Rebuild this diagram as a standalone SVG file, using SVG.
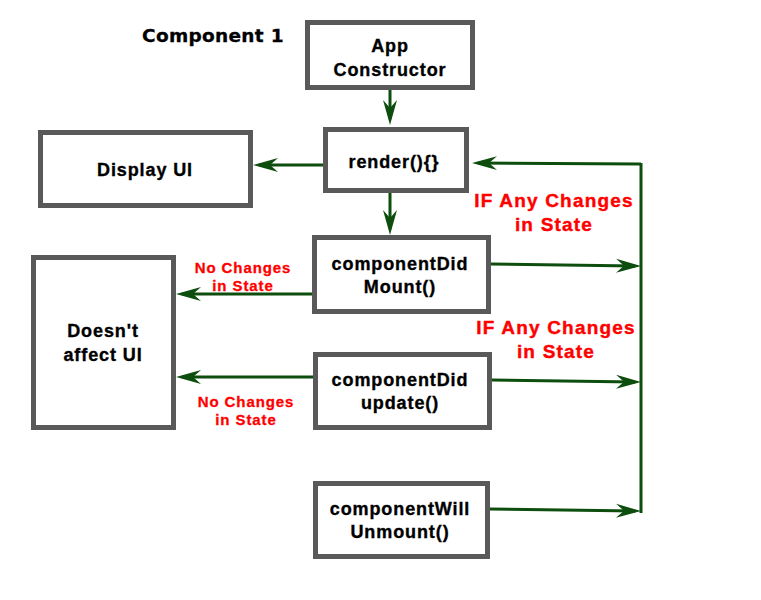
<svg xmlns="http://www.w3.org/2000/svg" width="761" height="600" viewBox="0 0 761 600">
<style>
.box{fill:#fff;stroke:#595959;stroke-width:5}
.t{font-family:"Liberation Sans",Arial,sans-serif;font-weight:bold;font-size:18px;letter-spacing:0.9px;fill:#000;stroke:#000;stroke-width:0.35;text-anchor:middle}
.red{font-family:"Liberation Sans",Arial,sans-serif;font-weight:bold;font-size:19px;letter-spacing:1.2px;fill:#ff0000;stroke:#ff0000;stroke-width:0.4;text-anchor:middle}
.reds{font-family:"Liberation Sans",Arial,sans-serif;font-weight:bold;font-size:15px;letter-spacing:0.9px;fill:#ff0000;stroke:#ff0000;stroke-width:0.3;text-anchor:middle}
.c{fill:none;stroke:#0d4d0d;stroke-width:3}
.ar{marker-end:url(#ah)}
</style>
<defs>
<marker id="ah" markerUnits="userSpaceOnUse" markerWidth="30" markerHeight="20" viewBox="0 -10 30 20" refX="19" refY="0" orient="auto">
<path d="M0,-7 L25,0 L0,7 L8,0 Z" fill="#0d4d0d"/>
</marker>
</defs>
<rect width="761" height="600" fill="#fff"/>
<text x="142" y="42" font-family="'DejaVu Sans',sans-serif" font-weight="bold" font-size="18.5" letter-spacing="0.3" fill="#000" stroke="#000" stroke-width="0.3">Component 1</text>
<g id="connectors">
<path class="c ar" d="M390,90 L390,119"/>
<path class="c ar" d="M323,165 L259,165"/>
<path class="c ar" d="M390,193 L390,229"/>
<path class="c ar" d="M312,294 L182,294"/>
<path class="c ar" d="M313,377 L182,377"/>
<path class="c" d="M641,163 L641,513"/>
<path class="c ar" d="M641,164 L478,163"/>
<path class="c ar" d="M491,264 L635,266"/>
<path class="c ar" d="M492,380 L635,382"/>
<path class="c ar" d="M490,509 L635,511"/>
</g>
<g id="labels">
<text class="red" x="554" y="207">IF Any Changes</text>
<text class="red" x="554" y="231">in State</text>
<text class="red" x="556" y="334">IF Any Changes</text>
<text class="red" x="556" y="358">in State</text>
<text class="reds" x="243" y="273">No Changes</text>
<text class="reds" x="243" y="291">in State</text>
<text class="reds" x="246" y="407">No Changes</text>
<text class="reds" x="246" y="425">in State</text>
</g>
<g id="app">
<rect class="box" x="307.5" y="22.5" width="165" height="65"/>
<text class="t" x="390" y="52">App</text>
<text class="t" x="390" y="76">Constructor</text>
</g>
<g id="render">
<rect class="box" x="325.5" y="129.5" width="141" height="61"/>
<text class="t" x="394" y="168">render(){}</text>
</g>
<g id="display">
<rect class="box" x="40.5" y="132.5" width="210" height="73"/>
<text class="t" x="145" y="176">Display UI</text>
</g>
<g id="didmount">
<rect class="box" x="314.5" y="237.5" width="174" height="74"/>
<text class="t" x="400" y="270">componentDid</text>
<text class="t" x="400" y="293">Mount()</text>
</g>
<g id="noaffect">
<rect class="box" x="33.5" y="257.5" width="140" height="170"/>
<text class="t" x="103" y="337">Doesn't</text>
<text class="t" x="103" y="361">affect UI</text>
</g>
<g id="didupdate">
<rect class="box" x="315.5" y="354.5" width="174" height="73"/>
<text class="t" x="400" y="386">componentDid</text>
<text class="t" x="400" y="409">update()</text>
</g>
<g id="willunmount">
<rect class="box" x="315.5" y="483.5" width="172" height="73"/>
<text class="t" x="400" y="515">componentWill</text>
<text class="t" x="400" y="538">Unmount()</text>
</g>
</svg>
